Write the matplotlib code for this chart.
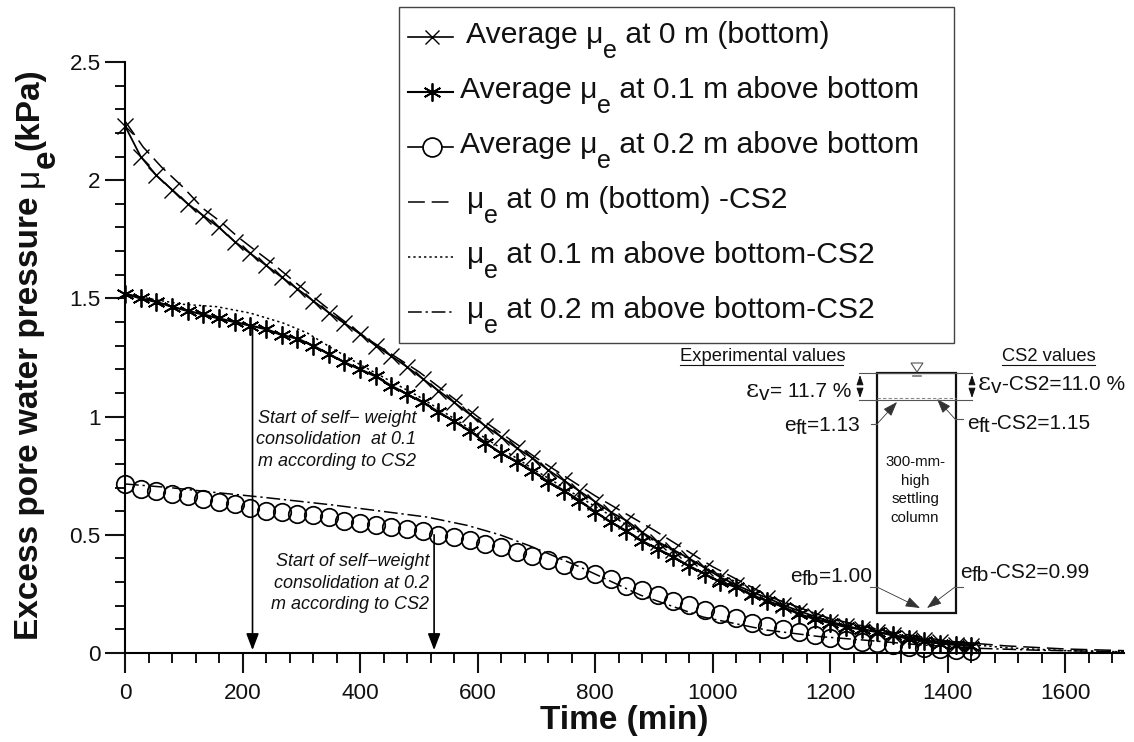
import matplotlib
matplotlib.use('Agg')
import matplotlib.pyplot as plt
from matplotlib.lines import Line2D
from matplotlib.patches import Rectangle, Polygon, FancyArrowPatch

W, H = 1134, 742
plt.rcParams['font.family'] = ['Liberation Sans', 'DejaVu Sans']

# measured series, one reading every 26.67 min
STEP = 80 / 3
cross = [2.23, 2.10, 2.02, 1.96, 1.90, 1.85, 1.80, 1.74, 1.69, 1.64, 1.59, 1.54, 1.49, 1.44,
         1.395, 1.35, 1.30, 1.256, 1.21, 1.16, 1.11, 1.06, 1.01, .96, .915, .867, .825, .774,
         .73, .685, .64, .596, .56, .51, .47, .436, .40, .36, .32, .288, .258, .233, .203,
         .178, .155, .133, .115, .10, .09, .075, .065, .055, .045, .035, .03]
star = [1.52, 1.50, 1.485, 1.465, 1.447, 1.432, 1.415, 1.40, 1.385, 1.37, 1.345, 1.33, 1.30,
        1.265, 1.23, 1.20, 1.17, 1.13, 1.095, 1.06, 1.02, .98, .94, .89, .845, .81, .77, .725,
        .687, .645, .597, .554, .516, .474, .44, .406, .368, .334, .30, .279, .245, .22, .195,
        .165, .144, .127, .11, .10, .089, .075, .06, .05, .04, .035, .03]
circle = [.715, .695, .687, .672, .664, .651, .639, .63, .613, .60, .597, .587, .583, .575, .558,
          .55, .54, .532, .524, .515, .50, .49, .477, .46, .448, .427, .41, .393, .372, .35, .334,
          .313, .283, .266, .245, .22, .203, .182, .165, .148, .127, .114, .10, .087, .076, .063,
          .055, .047, .042, .034, .025, .02, .015, .012, .01]
t_meas = [i * STEP for i in range(len(cross))]

# CS2 model curves
t_cs0 = [0, 31, 62, 99, 133, 165, 192, 218, 250, 281, 310, 354, 412, 500, 600, 700, 800, 900,
         1000, 1100, 1200, 1300, 1400, 1500, 1600, 1700]
cs0 = [2.25, 2.14, 2.056, 1.97, 1.88, 1.82, 1.76, 1.71, 1.65, 1.586, 1.527, 1.44, 1.33, 1.19,
       1.0, .825, .665, .52, .365, .235, .145, .09, .05, .03, .017, .01]
t_cs1 = [0, 50, 99, 156, 213, 269, 310, 349, 400, 500, 600, 700, 800, 900, 1000, 1100, 1200,
         1300, 1400, 1500, 1600, 1700]
cs1 = [1.52, 1.495, 1.475, 1.465, 1.438, 1.396, 1.354, 1.294, 1.22, 1.085, .93, .77, .62, .475,
       .345, .235, .145, .085, .045, .022, .01, .005]
t_cs2 = [0, 75, 150, 230, 354, 514, 582, 638, 689, 774, 877, 984, 1092, 1180, 1256, 1350, 1450,
         1550, 1700]
cs2 = [.715, .70, .68, .66, .626, .575, .54, .50, .453, .364, .245, .152, .097, .07, .055, .035,
       .02, .012, .005]

x_major = [0, 200, 400, 600, 800, 1000, 1200, 1400, 1600]
x_minor = [v for v in range(0, 1701, 40) if v % 200]
y_major = [0, 0.5, 1, 1.5, 2, 2.5]
y_labels = ['0', '0.5', '1', '1.5', '2', '2.5']
y_minor = [.1, .2, .3, .4, .6, .7, .8, .9, 1.1, 1.2, 1.3, 1.4, 1.6, 1.7, 1.8, 1.9, 2.1, 2.2, 2.3, 2.4]

legend_rows = [('Average μ', ' at 0 m (bottom)'),
               ('Average μ', ' at 0.1 m above bottom'),
               ('Average μ', ' at 0.2 m above bottom'),
               ('μ', ' at 0 m (bottom) -CS2'),
               ('μ', ' at 0.1 m above bottom-CS2'),
               ('μ', ' at 0.2 m above bottom-CS2')]

STAR = (6, 2, 0)
fig = plt.figure(figsize=(W / 100, H / 100), dpi=100)
ax = fig.add_axes([125 / W, 1 - 653 / H, 999 / W, 591 / H])
ax.set_xlim(0, 1700)
ax.set_ylim(0, 2.5)
ax.patch.set_alpha(0)
for s in ('top', 'right'):
    ax.spines[s].set_visible(False)
for s in ('left', 'bottom'):
    ax.spines[s].set_linewidth(1.5)

ax.set_xticks(x_major)
ax.set_xticks(x_minor, minor=True)
ax.set_yticks(y_major, y_labels)
ax.set_yticks(y_minor, minor=True)
ax.tick_params(which='major', length=14.4, width=1.5, labelsize=16.2, color='#111111', labelcolor='#111111')
ax.tick_params(which='minor', length=7.2, width=1.4, color='#111111')
ax.tick_params(axis='x', which='major', pad=7)
ax.tick_params(axis='y', which='major', pad=3)

ax.plot(t_cs0, cs0, color='k', lw=1.1, ls=(0, (11, 4.5)), clip_on=False)
ax.plot(t_cs1, cs1, color='k', lw=1.1, ls=(0, (1.5, 2)), clip_on=False)
ax.plot(t_cs2, cs2, color='k', lw=1.1, ls=(0, (9, 2.5, 1.5, 2.5)), clip_on=False)
ax.plot(t_meas, cross, color='k', lw=1.3, marker='x', ms=11.5, mew=1.0, clip_on=False, zorder=4)
ax.plot(t_meas, star, color='k', lw=1.6, marker=STAR, ms=13, mew=1.3, clip_on=False, zorder=4)
ax.plot(t_meas, circle, color='k', ls='none', marker='o', ms=12.6, mew=1.25, mfc='none', clip_on=False, zorder=4)

for tx, y0 in ((217, 1.38), (526, 0.5)):
    ax.annotate('', xy=(tx, 0.012), xytext=(tx, y0),
                arrowprops=dict(arrowstyle='-|>,head_length=1.0,head_width=0.38', color='k', lw=1.2,
                                shrinkA=0, shrinkB=0))


def fx(x):
    return x / W


def fy(y):
    return 1 - y / H


def line(xs, ys, color='#555555', lw=0.8, **kw):
    fig.add_artist(Line2D([fx(x) for x in xs], [fy(y) for y in ys], color=color, lw=lw, **kw))


def text_width(s, size, **kw):
    r = fig.canvas.get_renderer()
    t = fig.text(0, 0, '|' + s + '|', fontsize=size, **kw)
    w = t.get_window_extent(r).width
    t.set_text('||')
    w -= t.get_window_extent(r).width
    t.remove()
    return w


def runs(x, y, parts, size, color='#111111', rotated=False, **kw):
    # lay out text pieces in a row, each with its own baseline offset in px
    for part in parts:
        s, drop = part[0], part[1]
        opts = dict(kw)
        opts.update(part[2] if len(part) > 2 else {})
        sz = opts.pop('size', size)
        if rotated:
            fig.text(fx(x + drop), fy(y), s, fontsize=sz, color=color, rotation=90,
                     rotation_mode='anchor', ha='left', va='baseline', **opts)
            y -= text_width(s, sz, **opts)
        else:
            fig.text(fx(x), fy(y + drop), s, fontsize=sz, color=color, ha='left', va='baseline', **opts)
            x += text_width(s, sz, **opts)


# axis titles
fig.text(fx(624), fy(729), 'Time (min)', fontsize=24, fontweight='bold', ha='center', va='baseline', color='#111111')
runs(38, 640, [('Excess pore water pressure ', 0, dict(fontweight='bold')), ('μ', 0),
               ('e', 17, dict(fontweight='bold')), ('(kPa)', 0, dict(fontweight='bold'))], 24, rotated=True)

# notes next to the arrows
fig.text(fx(416), fy(440), 'Start of self− weight\nconsolidation  at 0.1\nm according to CS2', fontsize=13,
         style='italic', ha='right', va='center', linespacing=1.34, color='#111111')
fig.text(fx(429), fy(583), 'Start of self−weight\nconsolidation at 0.2\nm according to CS2', fontsize=13,
         style='italic', ha='right', va='center', linespacing=1.34, color='#111111')

# legend box, drawn by hand because of the full size subscripts
fig.add_artist(Rectangle((fx(398.5), fy(343)), 555.5 / W, 336 / H, transform=fig.transFigure,
                         fc='white', ec='#444444', lw=1.0, zorder=5))
base_y = [43, 98, 153, 208, 263, 318]
text_x = [466, 460, 460, 467, 467, 467]
for i, (before, after) in enumerate(legend_rows):
    runs(text_x[i], base_y[i], [(before, 0), ('e', 15, dict(size=18)), (after, 0)], 21.7, zorder=6)
hx = [408, 453]
hc = 432
line(hx, [37, 37], 'k', 1.2, zorder=6)
line(hx, [92, 92], 'k', 1.5, zorder=6)
line([408, 422], [147, 147], 'k', 1.2, zorder=6)
line([442, 453], [147, 147], 'k', 1.2, zorder=6)
line([hc], [37], 'k', 0, marker='x', ms=9.5, mew=1.0, zorder=6)
line([hc], [92], 'k', 0, marker=STAR, ms=13, mew=1.3, zorder=6)
line([hc], [147], 'k', 0, marker='o', ms=13.6, mew=1.25, mfc='none', zorder=6)
line(hx, [202, 202], 'k', 1.1, ls=(0, (11, 4.5)), zorder=6)
line(hx, [257, 257], 'k', 1.1, ls=(0, (1.5, 2)), zorder=6)
line(hx, [312, 312], 'k', 1.1, ls=(0, (9, 2.5, 1.5, 2.5)), zorder=6)

# settling column sketch
fig.add_artist(Rectangle((fx(877), fy(613)), 79 / W, 240 / H, transform=fig.transFigure,
                         fc='none', ec='#111111', lw=1.6))
line([859, 972], [373, 373])
line([859, 972], [400, 400])
line([877, 956], [398.5, 398.5], '#888888', 0.8, ls=(0, (3, 2)))
fig.add_artist(Polygon([(fx(911), fy(363)), (fx(923), fy(363)), (fx(917), fy(372))], closed=True,
                       transform=fig.transFigure, fc='white', ec='#555555', lw=0.8))
line([913, 921], [376, 376], '#777777', 1.2)


def small_arrow(p0, p1, color='#111111', lw=0.7, head=6):
    fig.add_artist(FancyArrowPatch((fx(p0[0]), fy(p0[1])), (fx(p1[0]), fy(p1[1])), transform=fig.transFigure,
                                   arrowstyle='-|>,head_length=%.2f,head_width=%.2f' % (head / 10, head / 28),
                                   mutation_scale=10, color=color, lw=lw, shrinkA=0, shrinkB=0))


for ax_x in (860, 972):
    small_arrow((ax_x, 384), (ax_x, 375))
    small_arrow((ax_x, 389), (ax_x, 398))

for p0, p1, p2 in [((871, 424), (877, 424), (897, 402)), ((963, 419), (955, 419), (937, 399)),
                   ((870, 587), (877, 587), (920, 608)), ((963, 587), (955, 587), (927, 608))]:
    line([p0[0], p1[0]], [p0[1], p1[1]])
    small_arrow(p1, p2, '#333333', 0.6, 9)

fig.text(fx(680), fy(361), 'Experimental values', fontsize=13.2, color='#111111', ha='left', va='baseline')
line([680, 843], [365, 365], '#111111', 0.8)
fig.text(fx(1002), fy(361), 'CS2 values', fontsize=13.2, color='#111111', ha='left', va='baseline')
line([1002, 1095], [365, 365], '#111111', 0.8)

SZ = 15
EPS = dict(family='DejaVu Serif', size=18)
runs(746, 397, [('ε', 0, EPS), ('v', 3), ('= 11.7 %', 0)], SZ)
runs(978, 390, [('ε', 0, EPS), ('v', 3), ('-CS2=11.0 %', 0)], SZ)
runs(784, 431, [('e', 0), ('ft', 3), ('=1.13', 0)], SZ)
runs(967, 429, [('e', 0), ('ft', 3), ('-CS2=1.15', 0)], SZ)
runs(790, 582, [('e', 0), ('fb', 3), ('=1.00', 0)], SZ)
runs(960, 578, [('e', 0), ('fb', 3), ('-CS2=0.99', 0)], SZ)
fig.text(fx(915), fy(490), '300-mm-\nhigh\nsettling\ncolumn', fontsize=10.8, ha='center', va='center',
         linespacing=1.4, color='#111111')

fig.savefig('out.png', dpi=100)
